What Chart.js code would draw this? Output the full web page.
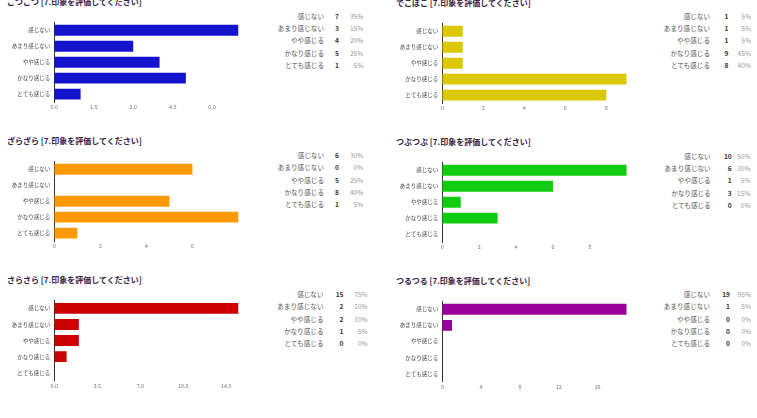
<!DOCTYPE html>
<html>
<head>
<meta charset="utf-8">
<script src="https://cdn.jsdelivr.net/npm/chart.js@4.4.0/dist/chart.umd.min.js"></script>
<style>
  body { margin: 0; background: #fff; width: 757px; height: 418px; overflow: hidden; position: relative;
         font-family: 'Noto Sans CJK JP', sans-serif; }
  .title { position: absolute; font-size: 8px; font-weight: bold; color: #3a2448; white-space: nowrap; line-height: 10px; }
  canvas { position: absolute; }
  .cell { position: absolute; width: 70px; font-size: 6.6px; line-height: 8px; white-space: nowrap; text-align: right; }
  .lab { color: #555; }
  .cnt { color: #333; font-weight: bold; }
  .pct { color: #999; }
</style>
</head>
<body>
<script>
// answer choices (same for every item)
const categories = ['感じない', 'あまり感じない', 'やや感じる', 'かなり感じる', 'とても感じる'];

const titles = [
    'ごつごつ [7.印象を評価してください]',
    'でこぼこ [7.印象を評価してください]',
    'ざらざら [7.印象を評価してください]',
    'つぶつぶ [7.印象を評価してください]',
    'さらさら [7.印象を評価してください]',
    'つるつる [7.印象を評価してください]'
];

// counts per item
const gotsugotsu = [7, 3, 4, 5, 1];
const dekoboko   = [1, 1, 1, 9, 8];
const zarazara   = [6, 0, 5, 8, 1];
const tsubutsubu = [10, 6, 1, 3, 0];
const sarasara   = [15, 2, 2, 1, 0];
const tsurutsuru = [19, 1, 0, 0, 0];

// percent column
const pctGotsu  = ['35%', '15%', '20%', '25%', '5%'];
const pctDeko   = ['5%', '5%', '5%', '45%', '40%'];
const pctZara   = ['30%', '0%', '25%', '40%', '5%'];
const pctTsubu  = ['50%', '30%', '5%', '15%', '0%'];
const pctSara   = ['75%', '10%', '10%', '5%', '0%'];
const pctTsuru  = ['95%', '5%', '0%', '0%', '0%'];

// x axis tick labels
const ticksGotsu = ['0.0', '1.5', '3.0', '4.5', '6.0'];
const ticksDeko  = ['0', '2', '4', '6', '8'];
const ticksZara  = ['0', '2', '4', '6'];
const ticksTsubu = ['0', '2', '4', '6', '8'];
const ticksSara  = ['0.0', '3.5', '7.0', '10.5', '14.0'];
const ticksTsuru = ['0', '4', '8', '12', '16'];

const panels = [
    { values: gotsugotsu, pct: pctGotsu,  ticks: ticksGotsu, color: '#1414cc', col: 0, row: 0, table: [324, 339, 363.3] },
    { values: dekoboko,   pct: pctDeko,   ticks: ticksDeko,  color: '#dac800', col: 1, row: 0, table: [710, 728.5, 751] },
    { values: zarazara,   pct: pctZara,   ticks: ticksZara,  color: '#ff9900', col: 0, row: 1, table: [324, 339, 363.3] },
    { values: tsubutsubu, pct: pctTsubu,  ticks: ticksTsubu, color: '#11cc11', col: 1, row: 1, table: [710.7, 731.7, 750.5] },
    { values: sarasara,   pct: pctSara,   ticks: ticksSara,  color: '#cc0000', col: 0, row: 2, table: [323.5, 343.5, 367.7] },
    { values: tsurutsuru, pct: pctTsuru,  ticks: ticksTsuru, color: '#990099', col: 1, row: 2, table: [710, 730, 751] }
];

const colBase  = [0, 380];
const plotLeft = [54.3, 442.3];
const plotRight = [238.5, 626.7];
const plotTops = [[20.6, 159.6, 299.3], [21.6, 160.6, 300.0]];
const tableTops = [[15.7, 155, 294], [15.7, 155.7, 294]];
const plotH = 81.5;

Chart.defaults.font.family = "'Noto Sans CJK JP', sans-serif";

function addDiv(cls, text, left, top, extra) {
    const d = document.createElement('div');
    d.className = cls;
    d.textContent = text;
    d.style.left = left + 'px';
    d.style.top = top + 'px';
    if (extra) Object.assign(d.style, extra);
    document.body.appendChild(d);
    return d;
}

panels.forEach((p, i) => {
    const base = colBase[p.col];
    const top = plotTops[p.col][p.row];

    addDiv('title', titles[i], p.col ? 396 : 7, top - 19 - 5);

    // canvas
    const cTop = Math.round(top) - 6;
    const cW = 252, cH = 104;
    const cv = document.createElement('canvas');
    cv.width = cW; cv.height = cH;
    cv.style.left = base + 'px';
    cv.style.top = cTop + 'px';
    document.body.appendChild(cv);

    const padTop = top - cTop;
    const padRight = base + cW - plotRight[p.col];
    const axisH = cH - padTop - plotH;

    new Chart(cv.getContext('2d'), {
        type: 'bar',
        data: {
            labels: categories,
            datasets: [{
                data: p.values,
                backgroundColor: p.color,
                borderWidth: 0,
                categoryPercentage: 1,
                barPercentage: 0.68
            }]
        },
        options: {
            indexAxis: 'y',
            responsive: false,
            animation: false,
            layout: { padding: { top: padTop, right: padRight, left: 0, bottom: 0 } },
            scales: {
                x: {
                    min: 0,
                    max: Math.max(...p.values),
                    afterBuildTicks: s => { s.ticks = p.ticks.map(t => ({ value: parseFloat(t) })); },
                    afterFit: s => { s.height = axisH; },
                    grid: { display: false, drawTicks: false },
                    border: { display: false },
                    ticks: {
                        callback: (v, idx) => p.ticks[idx],
                        color: '#777',
                        font: { size: 5.5 },
                        padding: 2,
                        maxRotation: 0,
                        autoSkip: false
                    }
                },
                y: {
                    afterFit: s => { s.width = plotLeft[p.col] - base; },
                    grid: { display: false, drawTicks: false },
                    border: { display: true, color: '#333', width: 1 },
                    ticks: { color: '#444', font: { size: 5.5 }, padding: 4, autoSkip: false }
                }
            },
            plugins: { legend: { display: false }, tooltip: { enabled: false } }
        }
    });

    // summary table
    const tTop = tableTops[p.col][p.row];
    categories.forEach((c, r) => {
        const y = tTop + r * 12.3 - 4;
        addDiv('cell lab', c, p.table[0] - 70, y);
        addDiv('cell cnt', String(p.values[r]), p.table[1] - 70, y);
        addDiv('cell pct', p.pct[r], p.table[2] - 70, y);
    });
});
</script>
</body>
</html>
